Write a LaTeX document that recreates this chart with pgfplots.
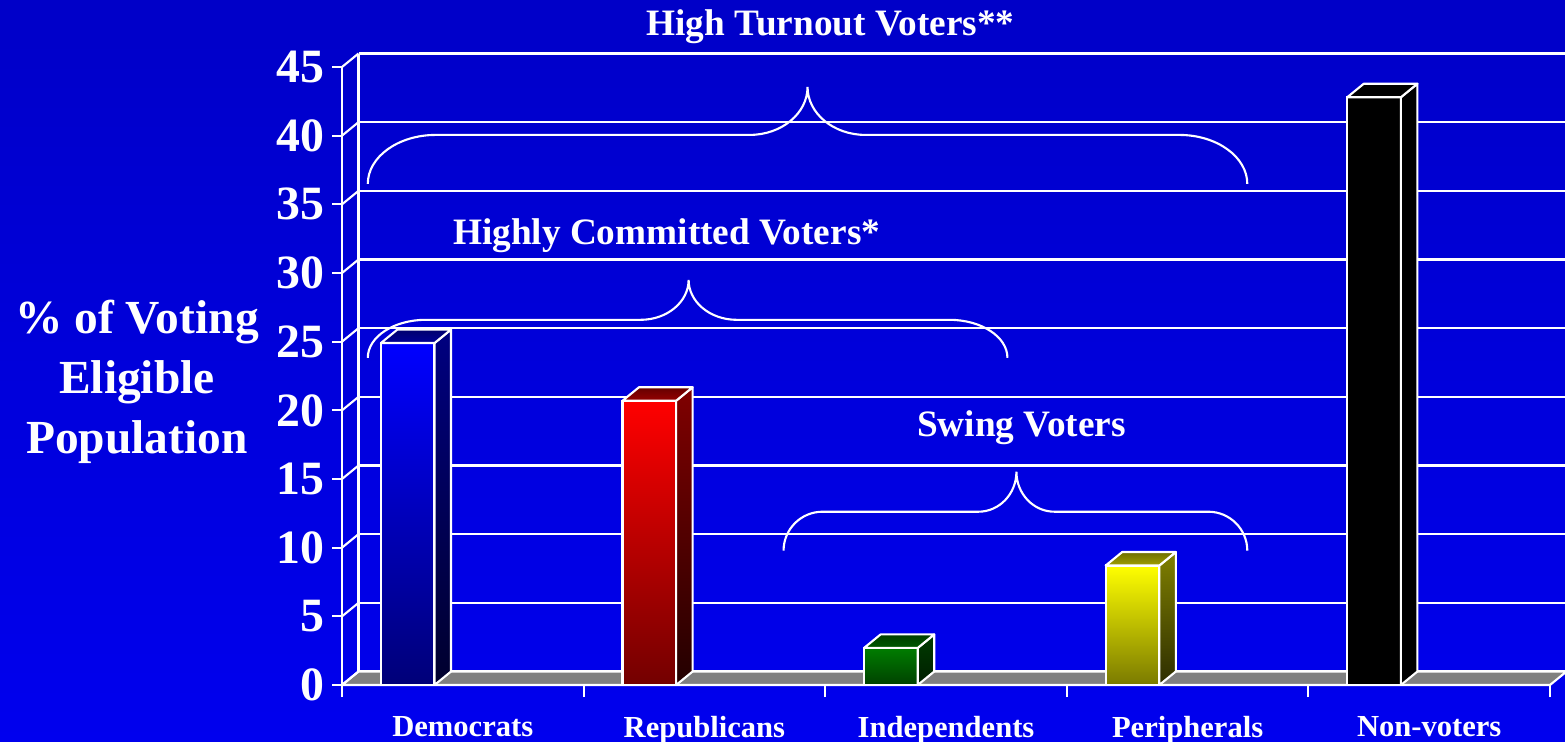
\documentclass[border=0pt]{standalone}
\usepackage{pgfplots}
\pgfplotsset{compat=1.18}
\usepackage{fontspec}
\setmainfont{Liberation Serif}

\definecolor{bgtop}{RGB}{0,0,200}
\definecolor{bgbot}{RGB}{0,0,238}
% front top, front bottom, side top, side bottom, lid back, lid front
\definecolor{demA}{RGB}{0,0,255}  \definecolor{demB}{RGB}{0,0,120}
\definecolor{demC}{RGB}{0,0,128}  \definecolor{demD}{RGB}{0,0,45}
\definecolor{demE}{RGB}{0,0,110}  \definecolor{demF}{RGB}{0,0,150}
\definecolor{repA}{RGB}{255,0,0}  \definecolor{repB}{RGB}{115,0,0}
\definecolor{repC}{RGB}{128,0,0}  \definecolor{repD}{RGB}{35,0,0}
\definecolor{repE}{RGB}{100,0,0}  \definecolor{repF}{RGB}{150,0,0}
\definecolor{indA}{RGB}{0,125,0}  \definecolor{indB}{RGB}{0,65,0}
\definecolor{indC}{RGB}{0,60,0}   \definecolor{indD}{RGB}{0,30,0}
\definecolor{indE}{RGB}{0,60,0}   \definecolor{indF}{RGB}{0,90,0}
\definecolor{perA}{RGB}{255,255,0} \definecolor{perB}{RGB}{122,122,0}
\definecolor{perC}{RGB}{128,128,0} \definecolor{perD}{RGB}{45,45,0}
\definecolor{perE}{RGB}{110,110,0} \definecolor{perF}{RGB}{160,160,0}

\pgfdeclareplotmark{nothing}{}

% 1px of the reference = 0.01cm
\def\dx{0.165cm}      % depth of the 3d effect
\def\dy{0.135cm}
\def\hw{0.2682cm}     % half bar width (0.222 x 2.416cm / 2)
\def\yunit{0.137333}  % cm per y unit (6.18cm / 45)

\pgfplotsset{
  box3d/.style={
    ybar, bar width=0.222, bar shift=0pt,
    draw=white, line width=0.6pt,
    top color=#1A, bottom color=#1B,
    scatter, mark=nothing,
    visualization depends on={rawy \as \rawy},
    scatter/@pre marker code/.code={%
      \pgfmathsetlengthmacro\H{\rawy*\yunit*1cm}%
      \shade[top color=#1C, bottom color=#1D, draw=white, line width=0.6pt, line join=round]
        (\hw,0pt) -- ++(\dx,\dy) -- ++(0pt,-\H) -- ++(-\dx,-\dy) -- cycle;
      \shade[top color=#1E, bottom color=#1F, draw=white, line width=0.6pt, line join=round]
        (-\hw,0pt) -- ++(\dx,\dy) -- ++({2*\hw},0pt) -- (\hw,0pt) -- cycle;
    },
    scatter/@post marker code/.code={},
  },
}

\newcommand\curlybrace[8]{% x1 xmid x2 ytip ystraight ypeak rend rmid (px)
  \draw (#1,#4) .. controls (#1,{#4-0.552*(#4-#5)}) and ({#1+0.448*#7},#5) .. ({#1+#7},#5)
    -- ({#2-#8},#5) .. controls ({#2-0.448*#8},#5) and (#2,{#6+0.552*(#5-#6)}) .. (#2,#6)
    .. controls (#2,{#6+0.552*(#5-#6)}) and ({#2+0.448*#8},#5) .. ({#2+#8},#5)
    -- ({#3-#7},#5) .. controls ({#3-0.448*#7},#5) and (#3,{#4-0.552*(#4-#5)}) .. (#3,#4);}

\begin{document}
\begin{tikzpicture}
\useasboundingbox (0,0) rectangle (15.65cm,7.41cm);
\shade[top color=bgtop, bottom color=bgbot] (0,0) rectangle (15.65cm,7.41cm);

\begin{axis}[
  at={(3.42cm,0.56cm)}, anchor=south west,
  scale only axis, width=12.08cm, height=6.18cm,
  xmin=0, xmax=5, ymin=0, ymax=45,
  clip=false,
  axis x line*=bottom, axis y line*=left,
  axis line style={white, line width=0.6pt, -},
  xtick={0.5,1.5,2.5,3.5,4.5},
  xticklabels={Democrats,Republicans,Independents,Peripherals,Non-voters},
  every major x tick/.append style={draw=none},
  minor xtick={0,1,2,3,4,5},
  every minor x tick/.append style={white, line width=0.6pt},
  minor tick length=0.12cm,
  ytick={0,5,...,45},
  every major y tick/.append style={white, line width=0.6pt},
  major tick length=0.1cm,
  tick align=outside,
  ymajorgrids,
  major grid style={white, line width=0.6pt, shift={(\dx,\dy)}},
  tick label style={white},
  xticklabel style={font=\fontsize{8.7}{10}\selectfont\bfseries, inner sep=0pt, yshift=-0.21cm},
  yticklabel style={font=\fontsize{13.6}{15}\selectfont\bfseries, inner sep=0pt, xshift=-0.07cm},
  /pgf/number format/assume math mode=true,
  every axis y label/.style={at={(axis description cs:-0.1697,0.491)}, anchor=center,
    align=center, inner sep=0pt, white, font=\fontsize{13.5}{17.07}\selectfont\bfseries},
  ylabel={\% of Voting\\Eligible\\Population},
]
% floor and left wall
\filldraw[fill=gray, draw=white, line width=0.6pt, line join=round]
  (axis cs:0,0) -- (axis cs:5,0) -- ++(\dx,\dy) -- ([shift={(\dx,\dy)}]axis cs:0,0) -- cycle;
\draw[white, line width=0.6pt] ([shift={(\dx,\dy)}]axis cs:0,0) -- ([shift={(\dx,\dy)}]axis cs:0,45);
\pgfplotsinvokeforeach{0,5,...,45}{
  \draw[white, line width=0.6pt] (axis cs:0,#1) -- ++(\dx,\dy);
}

\addplot[box3d=dem] coordinates {(0.272,24.9)};
\addplot[box3d=rep] coordinates {(1.272,20.7)};
\addplot[box3d=ind] coordinates {(2.272,2.7)};
\addplot[box3d=per] coordinates {(3.272,8.7)};
\addplot[ybar, bar width=0.222, bar shift=0pt, draw=white, line width=0.6pt, fill=black,
  scatter, mark=nothing, visualization depends on={rawy \as \rawy},
  scatter/@pre marker code/.code={%
    \pgfmathsetlengthmacro\H{\rawy*\yunit*1cm}%
    \filldraw[fill=black, draw=white, line width=0.6pt, line join=round]
      (\hw,0pt) -- ++(\dx,\dy) -- ++(0pt,-\H) -- ++(-\dx,-\dy) -- cycle;
    \filldraw[fill=black, draw=white, line width=0.6pt, line join=round]
      (-\hw,0pt) -- ++(\dx,\dy) -- ++({2*\hw},0pt) -- (\hw,0pt) -- cycle;
  },
  scatter/@post marker code/.code={}]
  coordinates {(4.272,42.8)};
\end{axis}

\begin{scope}[x=0.01cm, y=-0.01cm, shift={(0,7.41cm)}, white, line width=0.6pt]
  \node[anchor=base, inner sep=0pt, font=\fontsize{10.6}{12}\selectfont\bfseries] at (831,36) {High Turnout Voters**};
  \node[anchor=base, inner sep=0pt, font=\fontsize{10.6}{12}\selectfont\bfseries] at (667,245) {Highly Committed Voters*};
  \node[anchor=base, inner sep=0pt, font=\fontsize{10.6}{12}\selectfont\bfseries] at (1022,437) {Swing Voters};
  \curlybrace{368}{808}{1248}{184}{135}{87}{68}{58}
  \curlybrace{368}{689}{1008}{358}{320}{280}{58}{48}
  \curlybrace{784}{1017}{1248}{551}{512}{472}{39}{38}
\end{scope}
\end{tikzpicture}
\end{document}
